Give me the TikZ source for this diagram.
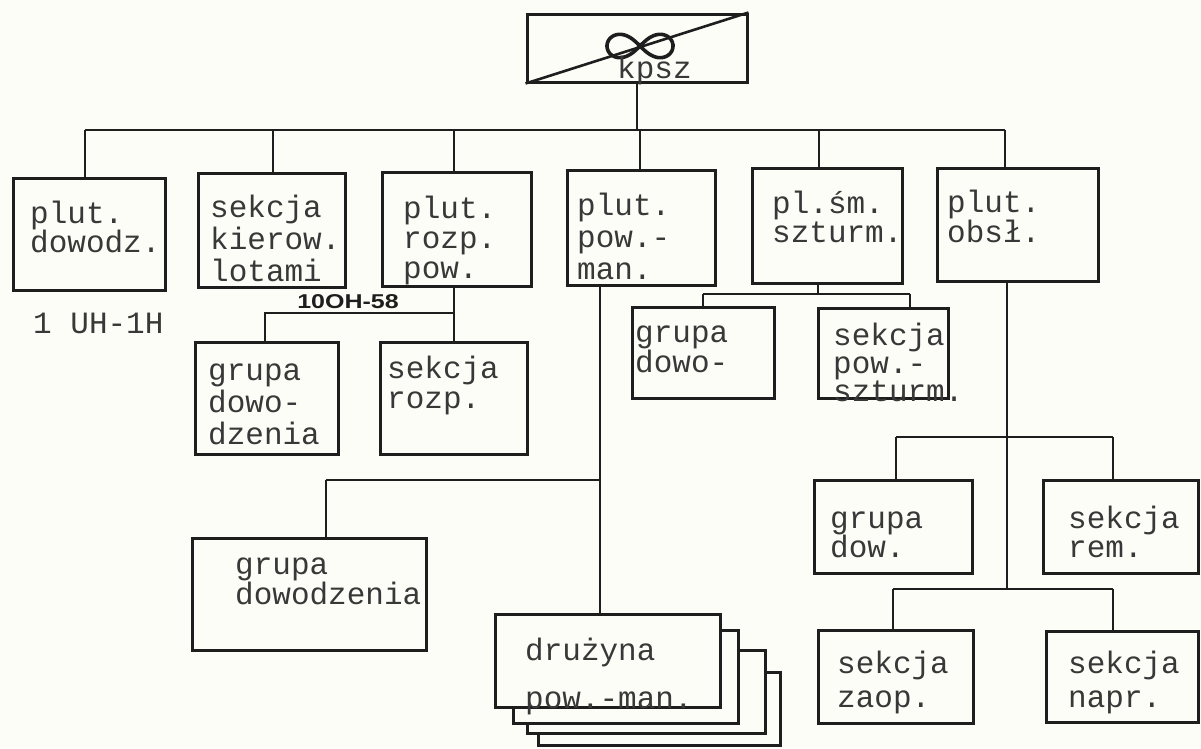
\documentclass[tikz,border=0pt]{standalone}
\usepackage{fontspec}
\setmonofont{Liberation Mono}
\newfontfamily\lsans{Liberation Sans}
\usetikzlibrary{fit,calc}
\definecolor{ink}{HTML}{1E1E1E}
\definecolor{paper}{HTML}{FDFDF8}
\definecolor{typ}{HTML}{383838}
\tikzset{
  box/.style={draw=ink, line width=3pt, inner sep=0pt, fill=paper},
  conn/.style={draw=ink, line width=2.6pt},
  txt/.style={text=typ, inner sep=0pt, align=left, anchor=base west, font=\ttfamily\fontsize{31}{31}\selectfont},
  ls/.style={font=\ttfamily\fontsize{31}{#1}\selectfont},
  lab/.style={text=ink, inner sep=0pt, font=\lsans\bfseries\fontsize{20}{20}\selectfont},
}
\newcommand\bx[5]{\node[box, fit={(#2,#3) (#4,#5)}] (#1) {};}
\begin{document}
\begin{tikzpicture}[x=1pt,y=-1pt]
\fill[paper] (0,0) rectangle (1201,748);
\useasboundingbox (0,0) rectangle (1201,748);

% boxes
\bx{top}{527}{14}{747}{82}
\bx{b1}{13}{178}{165}{290}
\bx{b2}{198}{173}{345}{287}
\bx{b3}{382}{172}{531}{286}
\bx{b4}{567}{170}{715}{285}
\bx{b5}{752}{168}{902}{283}
\bx{b6}{937}{168}{1098}{281}
\bx{b3a}{195}{342}{338}{454}
\bx{b3b}{380}{342}{527}{454}
\bx{b5a}{632}{307}{774}{398}
\bx{b5b}{818}{308}{948}{398}
\bx{b6a}{814}{480}{972}{573}
\bx{b6b}{1043}{480}{1198}{573}
\bx{b6c}{818}{630}{973}{723}
\bx{b6d}{1046}{631}{1198}{722}
\bx{b4a}{192}{538}{426}{650}
\bx{s4}{538}{672}{780}{745}
\bx{s3}{527}{650}{765}{733}
\bx{s2}{513}{630}{738}{723}
\bx{s1}{495}{614}{720}{707}

% top box contents
\draw[conn] (top.south west) -- (top.north east);
\draw[ink, line width=3.6pt] plot[domain=0:360, samples=120, smooth cycle]
  ({640+33*cos(\x)/(1+sin(\x)*sin(\x))}, {46+33*sin(\x)*cos(\x)/(1+sin(\x)*sin(\x))});
\node[txt] (kpsz) at (617,78) {kpsz};

% main bus
\coordinate (j1) at (85,130);
\coordinate (j2) at (273,130);
\coordinate (j3) at (454,130);
\coordinate (j4) at (640,130);
\coordinate (j5) at (819,130);
\coordinate (j6) at (1005,130);
\draw[conn] (top.south) -- (top.south |- j1);
\draw[conn] (j1) -- (j6);
\foreach \j/\b in {j1/b1,j2/b2,j3/b3,j4/b4,j5/b5,j6/b6}
  \draw[conn] (\j) -- (\j |- \b.north);

% under b3
\coordinate (k3) at (454,313);
\coordinate (k3L) at (265,313);
\draw[conn] (b3.south -| k3) -- (k3) -- (k3L) -- (k3L |- b3a.north);
\draw[conn] (k3) -- (k3 |- b3b.north);
\node[lab] (heli) at (348,302) {\scalebox{1.25}[1]{10OH-58}};

% under b5
\coordinate (k5) at (818,294);
\coordinate (k5L) at (703,294);
\coordinate (k5R) at (910,294);
\draw[conn] (b5.south -| k5) -- (k5);
\draw[conn] (k5L) -- (k5R);
\draw[conn] (k5L) -- (k5L |- b5a.north);
\draw[conn] (k5R) -- (k5R |- b5b.north);

% under b6
\coordinate (k6a) at (1007,437);
\coordinate (k6aL) at (896,437);
\coordinate (k6aR) at (1113,437);
\coordinate (k6b) at (1007,589);
\coordinate (k6bL) at (893,589);
\coordinate (k6bR) at (1113,589);
\draw[conn] (b6.south -| k6a) -- (k6b);
\draw[conn] (k6aL) -- (k6aR);
\draw[conn] (k6aL) -- (k6aL |- b6a.north);
\draw[conn] (k6aR) -- (k6aR |- b6b.north);
\draw[conn] (k6bL) -- (k6bR);
\draw[conn] (k6bL) -- (k6bL |- b6c.north);
\draw[conn] (k6bR) -- (k6bR |- b6d.north);

% under b4
\coordinate (k4) at (600,480);
\coordinate (k4L) at (326,480);
\draw[conn] (b4.south -| k4) -- (s1.north -| k4);
\draw[conn] (k4L) -- (k4);
\draw[conn] (k4L) -- (k4L |- b4a.north);

% texts (anchor = baseline of last line)
\node[txt, ls=29] (t1) at (30,252) {plut.\\dowodz.};
\node[txt, ls=32] (t2) at (210,281) {sekcja\\kierow.\\lotami};
\node[txt, ls=30] (t3) at (403,278) {plut.\\rozp.\\pow.};
\node[txt, ls=32] (t4) at (577,279) {plut.\\pow.-\\man.};
\node[txt, ls=27] (t5) at (772,242) {pl.śm.\\szturm.};
\node[txt, ls=27] (t6) at (947,242) {plut.\\obsł.};
\node[txt, ls=32] (t3a) at (208,444) {grupa\\dowo-\\dzenia};
\node[txt, ls=30] (t3b) at (387,408) {sekcja\\rozp.};
\node[txt, ls=27] (t5a) at (635,372) {grupa\\dowo-};
\node[txt, ls=28] (t5b) at (833,401) {sekcja\\pow.-\\szturm.};
\node[txt, ls=29] (t6a) at (830,557) {grupa\\dow.};
\node[txt, ls=29] (t6b) at (1068,557) {sekcja\\rem.};
\node[txt, ls=34] (t6c) at (837,707) {sekcja\\zaop.};
\node[txt, ls=34] (t6d) at (1068,707) {sekcja\\napr.};
\node[txt, ls=26] (t4a) at (235,604) {grupa\\dowodzenia};
\node[txt, ls=48] (ts1) at (525,708) {drużyna\\pow.-man.};
\node[txt] (uh) at (33,333) {1 UH-1H};
\end{tikzpicture}
\end{document}
